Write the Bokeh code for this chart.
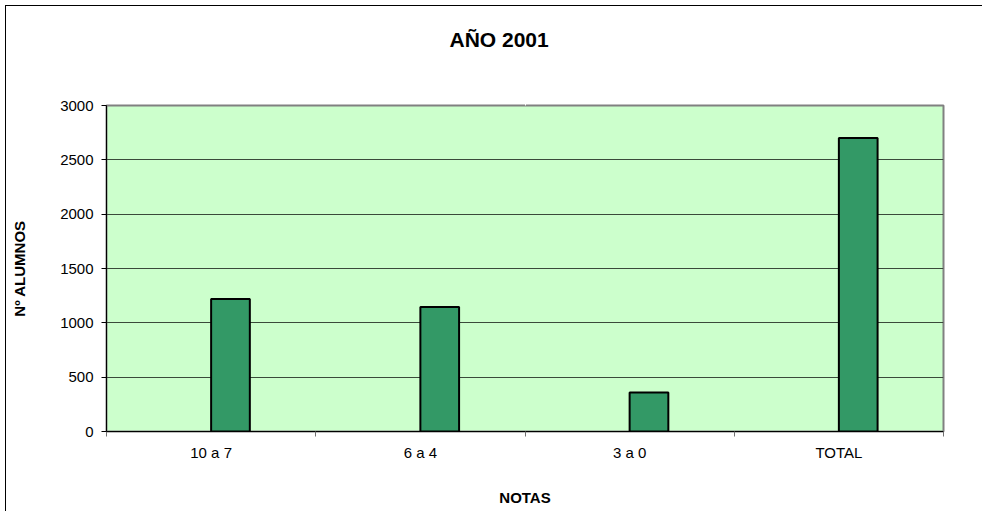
import numpy as np
from bokeh.plotting import figure
from bokeh.models import Range1d, FixedTicker, ColumnDataSource, LinearAxis
from bokeh.embed import file_html
from bokeh.resources import INLINE

categories = ["10 a 7", "6 a 4", "3 a 0", "TOTAL"]
alumnos = [1220, 1145, 360, 2700]
y_ticks = [0, 500, 1000, 1500, 2000, 2500, 3000]

FONT = "Liberation Sans"

idx = np.arange(len(categories))
bar_w = 0.185
src = ColumnDataSource(dict(x=idx + 0.5 + bar_w / 2, top=alumnos, cat=categories))

p = figure(width=976, height=505, output_backend="svg", toolbar_location=None,
           title="AÑO 2001",
           x_range=Range1d(0, len(categories)), y_range=Range1d(0, 3000),
           min_border_left=100, min_border_right=39, min_border_top=99, min_border_bottom=80,
           frame_width=837, frame_height=326,
           styles={"margin-left": "5px", "margin-top": "5px",
                   "border-left": "1px solid black", "border-top": "1px solid black"})

p.background_fill_color = "#CCFFCC"
p.border_fill_color = "white"
p.outline_line_color = "#808080"
p.outline_line_width = 2

p.vbar(x="x", top="top", width=bar_w, bottom=0, source=src,
       fill_color="#339966", line_color="black", line_width=2)

# references to the main axes before adding the spacer axis
xa = p.below[0]
ya = p.left[0]

# title
p.title.align = "left"
p.title.offset = 343
p.title.text_font = FONT
p.title.text_font_size = "21px"
p.title.text_font_style = "bold"
p.title.text_color = "black"
p.title.standoff = 10

# invisible (white) spacer axis between title and frame
spacer = LinearAxis(ticker=FixedTicker(ticks=[2]), axis_line_color=None,
                    major_tick_line_color="white", minor_tick_line_color=None,
                    major_label_text_font_size="0px", major_tick_out=50,
                    major_tick_in=0, minor_tick_out=0, minor_tick_in=0,
                    major_label_standoff=0)
p.add_layout(spacer, "above")

# y axis
ya.ticker = FixedTicker(ticks=y_ticks)
ya.axis_label = "Nº ALUMNOS"
ya.axis_label_text_font = FONT
ya.axis_label_text_font_size = "15px"
ya.axis_label_text_font_style = "bold"
ya.axis_label_text_color = "black"
ya.axis_label_standoff = 29
ya.major_label_text_font = FONT
ya.major_label_text_font_size = "15px"
ya.major_label_text_color = "black"
ya.major_label_standoff = 8
ya.major_tick_out = 5
ya.major_tick_in = 0
ya.minor_tick_out = 0
ya.minor_tick_in = 0
ya.axis_line_color = "black"
ya.major_tick_line_color = "black"

# x axis
centers = [i + 0.5 for i in range(len(categories))]
bounds = [float(i) for i in range(len(categories) + 1)]
xa.ticker = FixedTicker(ticks=centers, minor_ticks=bounds)
xa.major_label_overrides = {c: lab for c, lab in zip(centers, categories)}
xa.axis_label = "NOTAS"
xa.axis_label_text_font = FONT
xa.axis_label_text_font_size = "15px"
xa.axis_label_text_font_style = "bold"
xa.axis_label_text_color = "black"
xa.axis_label_standoff = 25
xa.major_label_text_font = FONT
xa.major_label_text_font_size = "15px"
xa.major_label_text_color = "black"
xa.major_label_standoff = 7
xa.major_tick_out = 0
xa.major_tick_in = 0
xa.minor_tick_out = 5
xa.minor_tick_in = 0
xa.minor_tick_line_color = "#707070"
xa.axis_line_color = "black"

p.xgrid.grid_line_color = None
p.ygrid.ticker = FixedTicker(ticks=y_ticks)
p.ygrid.grid_line_color = "#3a4a3a"
p.ygrid.grid_line_width = 1

open("out.html", "w").write(file_html(p, INLINE))
